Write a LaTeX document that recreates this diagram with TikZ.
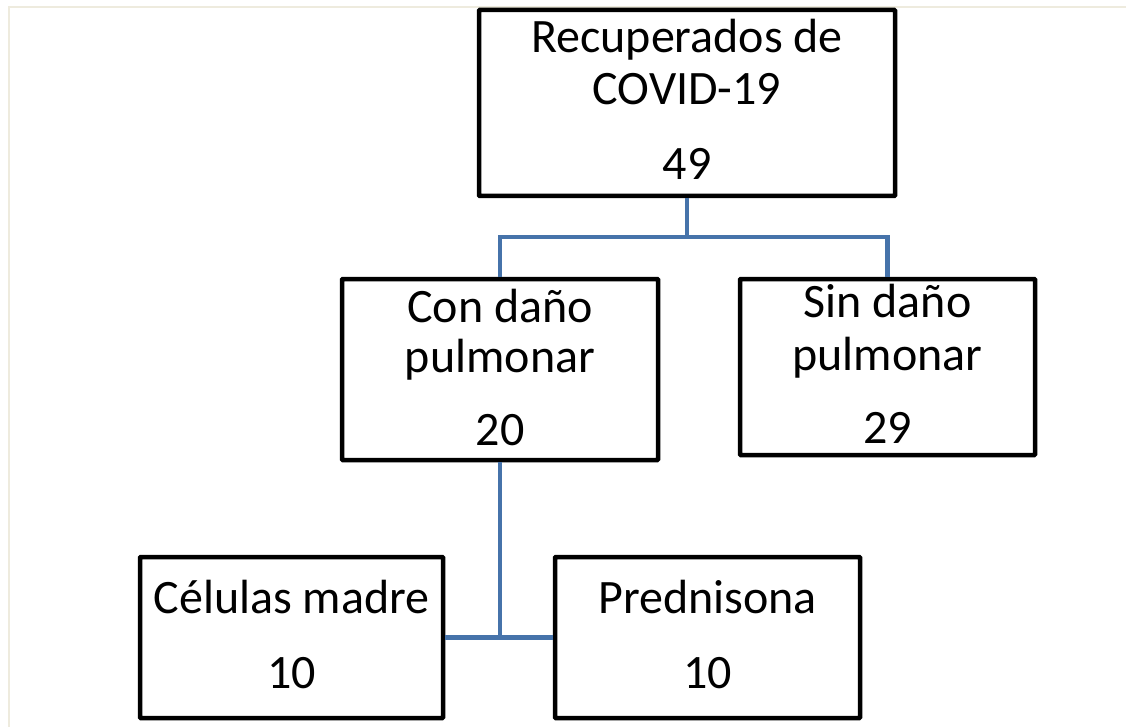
\documentclass[tikz,border=0pt]{standalone}
\usepackage{fontspec}
\setmainfont{Carlito}
\definecolor{frameline}{RGB}{238,235,222}
\definecolor{linkblue}{RGB}{70,115,170}
\tikzset{
  box/.style={draw=black, line width=4.5pt, fill=white, inner sep=0pt, rounded corners=0.8pt},
  lbl/.style={anchor=base, inner sep=0pt, font=\fontsize{48}{56}\selectfont},
  link/.style={draw=linkblue, line width=4.5pt}
}
\begin{document}
\begin{tikzpicture}[x=1pt,y=-1pt]
\useasboundingbox (0,0) rectangle (1126,727);
\fill[white] (0,0) rectangle (1126,727);
% faint frame
\draw[frameline, line width=2pt] (9,727) -- (9,7) -- (1126,7);
% boxes
\node[box, minimum width=416pt, minimum height=186pt] (top) at (687,103) {};
\node[box, minimum width=316pt, minimum height=181pt] (con) at (500,369.5) {};
\node[box, minimum width=295pt, minimum height=176pt] (sin) at (887.5,367) {};
\node[box, minimum width=303pt, minimum height=161pt] (cel) at (291.5,637.5) {};
\node[box, minimum width=305pt, minimum height=161pt] (pred) at (707.5,637.5) {};
% connectors
\coordinate (split) at (687,237);
\draw[link] (top.south) -- (split);
\draw[link] (split) -| (con.north);
\draw[link] (split) -| (sin.north);
\draw[link] (con.south) -- (con.south |- cel.east);
\draw[link] (cel.east) -- (pred.west);
% texts
\node[lbl] (t1) at (687,53) {Recuperados de};
\node[lbl] (t2) at (687,105) {COVID-19};
\node[lbl] (t3) at (687,180) {49};
\node[lbl] (c1) at (500,322) {Con daño};
\node[lbl] (c2) at (500,372) {pulmonar};
\node[lbl] (c3) at (500,445) {20};
\node[lbl] (s1) at (887.5,317) {Sin daño};
\node[lbl] (s2) at (887.5,370) {pulmonar};
\node[lbl] (s3) at (887.5,443) {29};
\node[lbl] (m1) at (291.5,613) {Células madre};
\node[lbl] (m2) at (291.5,688) {10};
\node[lbl] (p1) at (707.5,613) {Prednisona};
\node[lbl] (p2) at (707.5,688) {10};
\end{tikzpicture}
\end{document}
